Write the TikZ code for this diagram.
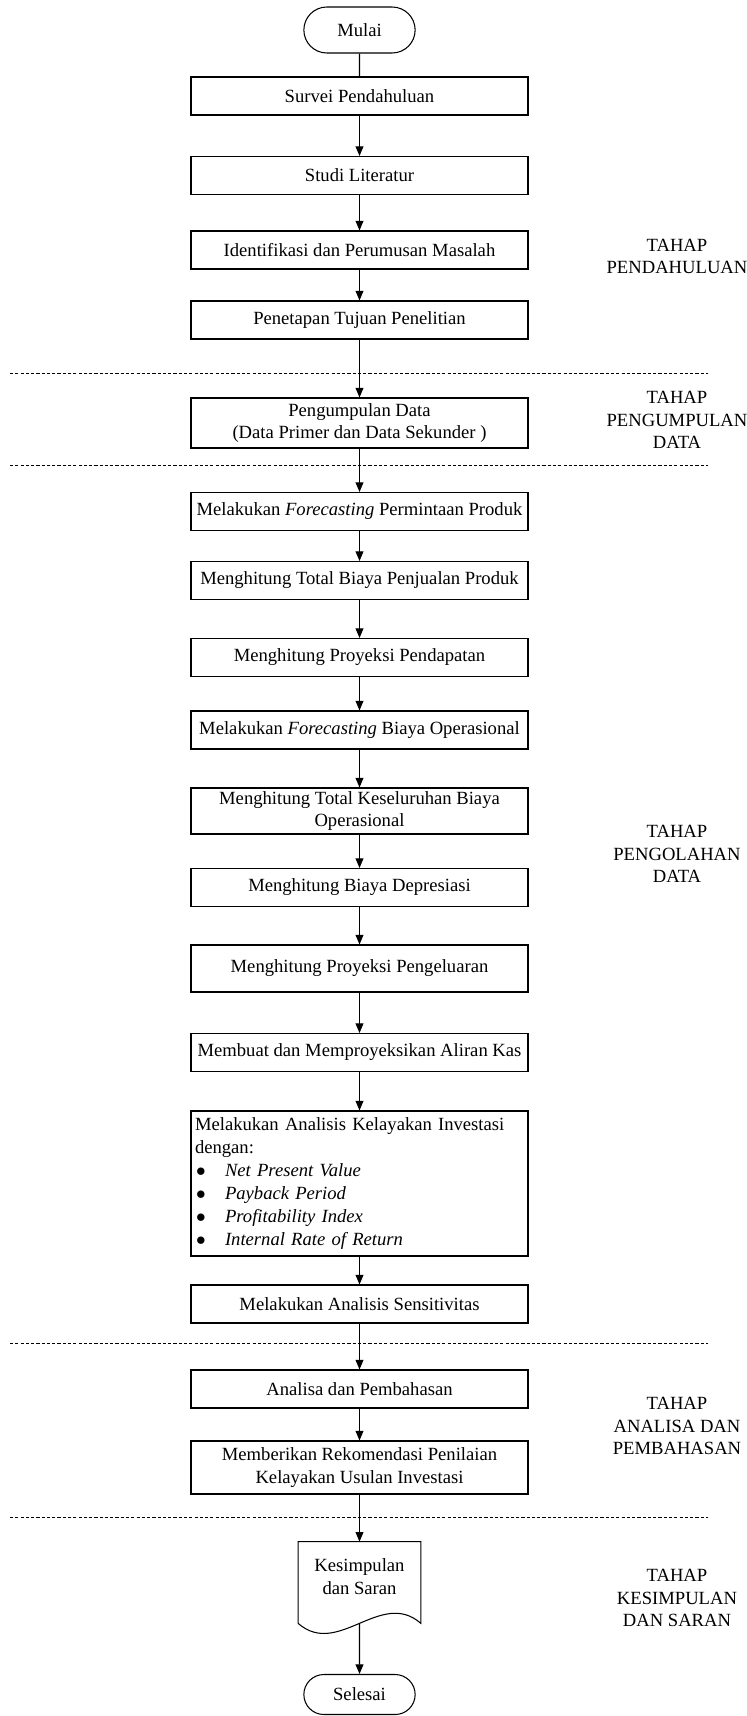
\documentclass[tikz,border=0pt]{standalone}
\usepackage{fontspec}
\setmainfont{Liberation Serif}
\usetikzlibrary{arrows.meta,shapes.misc}

\newcommand{\bulletitem}[1]{\makebox[0.6cm][l]{\hspace{0.02cm}$\bullet$}\textit{#1}}

\begin{document}
\begin{tikzpicture}[
        font=\fontsize{10.6}{13}\selectfont,
        process/.style={draw, line width=0.6pt, minimum width=6.74cm, minimum height=0.76cm, align=center, inner sep=1pt},
        terminal/.style={draw, line width=0.6pt, rounded rectangle, minimum width=2.46cm, minimum height=0.92cm},
        docbox/.style={minimum width=2.44cm, minimum height=1.4cm, align=center, inner sep=0pt},
        arrow/.style={-{Triangle[length=5.5pt,width=4.5pt]}, line width=0.6pt},
        divider/.style={dash pattern=on 1.8pt off 1.2pt, line width=0.4pt},
        stage/.style={align=center}
    ]

    \useasboundingbox (0,0) rectangle (14.92,-34.32);

    % Start
    \node[terminal] (mulai) at (7.19,-0.60) {Mulai};

    % Tahap pendahuluan
    \node[process] (survei) at (7.19,-1.92) {Survei Pendahuluan};
    \node[process] (studi) at (7.19,-3.51) {Studi Literatur};
    \node[process] (identifikasi) at (7.19,-5.00) {Identifikasi dan Perumusan Masalah};
    \node[process] (tujuan) at (7.19,-6.40) {Penetapan Tujuan Penelitian};

    % Tahap pengumpulan data
    \node[process, minimum height=1.0cm] (pengumpulan) at (7.19,-8.46) {Pengumpulan Data\\(Data Primer dan Data Sekunder )};

    % Tahap pengolahan data
    \node[process] (fpermintaan) at (7.19,-10.23) {Melakukan \textit{Forecasting} Permintaan Produk};
    \node[process] (penjualan) at (7.19,-11.61) {Menghitung Total Biaya Penjualan Produk};
    \node[process] (pendapatan) at (7.19,-13.15) {Menghitung Proyeksi Pendapatan};
    \node[process] (fbiaya) at (7.19,-14.60) {Melakukan \textit{Forecasting} Biaya Operasional};
    \node[process, minimum height=0.92cm] (keseluruhan) at (7.19,-16.22) {Menghitung Total Keseluruhan Biaya\\Operasional};
    \node[process] (depresiasi) at (7.19,-17.75) {Menghitung Biaya Depresiasi};
    \node[process, minimum height=0.94cm] (pengeluaran) at (7.19,-19.37) {Menghitung Proyeksi Pengeluaran};
    \node[process] (aliran) at (7.19,-21.05) {Membuat dan Memproyeksikan Aliran Kas};
    \node[process, minimum height=2.9cm, align=left, text width=6.58cm, inner xsep=0.08cm] (kelayakan) at (7.19,-23.67) {Melakukan Analisis Kelayakan Investasi\\dengan:\\\bulletitem{Net Present Value}\\\bulletitem{Payback Period}\\\bulletitem{Profitability Index}\\\bulletitem{Internal Rate of Return}};
    \node[process] (sensitivitas) at (7.19,-26.08) {Melakukan Analisis Sensitivitas};

    % Tahap analisa dan pembahasan
    \node[process] (analisa) at (7.19,-27.78) {Analisa dan Pembahasan};
    \node[process, minimum height=1.06cm] (rekomendasi) at (7.19,-29.35) {Memberikan Rekomendasi Penilaian\\Kelayakan Usulan Investasi};

    % Tahap kesimpulan dan saran (document shape, wavy bottom)
    \node[docbox] (kesimpulan) at (7.19,-31.54) {Kesimpulan\\dan Saran};
    \draw[line width=0.6pt] ([yshift=-0.22cm]kesimpulan.south west) -- (kesimpulan.north west) -- (kesimpulan.north east) -- ([yshift=-0.22cm]kesimpulan.south east)
        .. controls +(-0.8,0.7) and +(0.8,-0.7) .. ([yshift=-0.22cm]kesimpulan.south west);

    % End
    \node[terminal, minimum height=0.8cm] (selesai) at (7.19,-33.89) {Selesai};

    % Dividers between the stages
    \draw[divider] (0.2,-7.46) -- (14.16,-7.46);
    \draw[divider] (0.2,-9.30) -- (14.16,-9.30);
    \draw[divider] (0.2,-26.86) -- (14.16,-26.86);
    \draw[divider] (0.2,-30.34) -- (14.16,-30.34);

    % Stage labels
    \node[stage] (tahap1) at (13.54,-5.13) {TAHAP\\PENDAHULUAN};
    \node[stage] (tahap2) at (13.54,-8.40) {TAHAP\\PENGUMPULAN\\DATA};
    \node[stage] (tahap3) at (13.54,-17.08) {TAHAP\\PENGOLAHAN\\DATA};
    \node[stage] (tahap4) at (13.54,-28.52) {TAHAP\\ANALISA DAN\\PEMBAHASAN};
    \node[stage] (tahap5) at (13.54,-31.96) {TAHAP\\KESIMPULAN\\DAN SARAN};

    % Arrows
    \draw[line width=0.6pt] (mulai) -- (survei);
    \draw[arrow] (survei) -- (studi);
    \draw[arrow] (studi) -- (identifikasi);
    \draw[arrow] (identifikasi) -- (tujuan);
    \draw[arrow] (tujuan) -- (pengumpulan);
    \draw[arrow] (pengumpulan) -- (fpermintaan);
    \draw[arrow] (fpermintaan) -- (penjualan);
    \draw[arrow] (penjualan) -- (pendapatan);
    \draw[arrow] (pendapatan) -- (fbiaya);
    \draw[arrow] (fbiaya) -- (keseluruhan);
    \draw[arrow] (keseluruhan) -- (depresiasi);
    \draw[arrow] (depresiasi) -- (pengeluaran);
    \draw[arrow] (pengeluaran) -- (aliran);
    \draw[arrow] (aliran) -- (kelayakan);
    \draw[arrow] (kelayakan) -- (sensitivitas);
    \draw[arrow] (sensitivitas) -- (analisa);
    \draw[arrow] (analisa) -- (rekomendasi);
    \draw[arrow] (rekomendasi) -- (kesimpulan);
    \draw[arrow] ([yshift=-0.22cm]kesimpulan.south) -- (selesai);

\end{tikzpicture}
\end{document}
